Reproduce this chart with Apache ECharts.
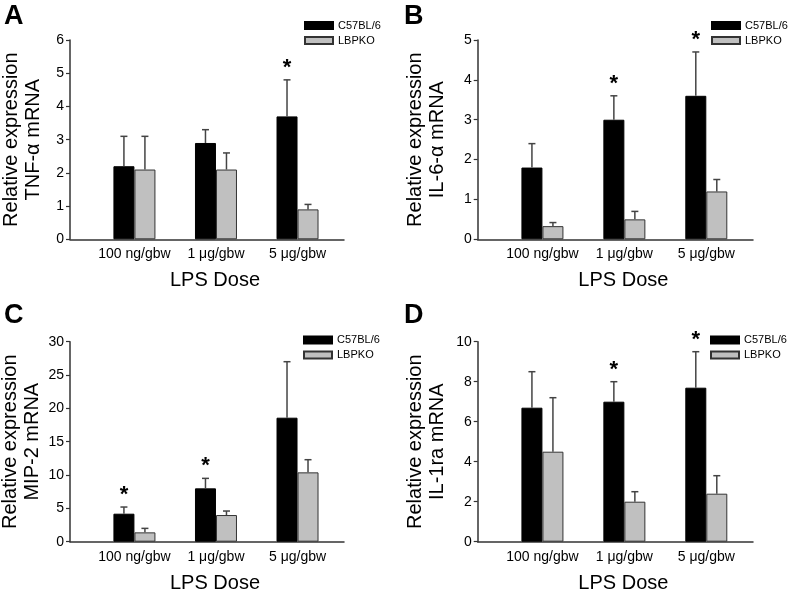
<!DOCTYPE html>
<html>
<head>
<meta charset="utf-8">
<script src="https://cdn.jsdelivr.net/npm/echarts@6/dist/echarts.min.js"></script>
<style>
html,body{margin:0;padding:0;background:#fff;}
#chart{width:796px;height:589px;}
</style>
</head>
<body>
<div id="chart"></div>
<script>
// ---------- data ----------
const categories = ['100 ng/gbw', '1 μg/gbw', '5 μg/gbw'];
const seriesNames = ['C57BL/6', 'LBPKO'];
const panelLetters = ['A', 'B', 'C', 'D'];
const yTitles = ['Relative expression\nTNF-α mRNA', 'Relative expression\nIL-6-α mRNA',
                 'Relative expression\nMIP-2 mRNA', 'Relative expression\nIL-1ra mRNA'];
const yMax = [6, 5, 30, 10];
const yInterval = [1, 1, 5, 2];

// A: TNF-alpha
const tnfC57 = [2.2, 2.9, 3.7];
const tnfC57Err = [0.9, 0.4, 1.1];
const tnfKO = [2.1, 2.1, 0.9];
const tnfKOErr = [1.0, 0.5, 0.15];
const tnfSig = [0, 0, 1];
// B: IL-6-alpha
const il6C57 = [1.8, 3.0, 3.6];
const il6C57Err = [0.6, 0.6, 1.1];
const il6KO = [0.33, 0.5, 1.2];
const il6KOErr = [0.09, 0.2, 0.3];
const il6Sig = [0, 1, 1];
// C: MIP-2
const mipC57 = [4.2, 8.0, 18.6];
const mipC57Err = [1.0, 1.5, 8.4];
const mipKO = [1.4, 4.0, 10.4];
const mipKOErr = [0.6, 0.6, 1.9];
const mipSig = [1, 1, 0];
// D: IL-1ra
const il1C57 = [6.7, 7.0, 7.7];
const il1C57Err = [1.8, 1.0, 1.8];
const il1KO = [4.5, 2.0, 2.4];
const il1KOErr = [2.7, 0.5, 0.9];
const il1Sig = [0, 1, 1];

const panels = [
  {c57: tnfC57, c57Err: tnfC57Err, ko: tnfKO, koErr: tnfKOErr, sig: tnfSig},
  {c57: il6C57, c57Err: il6C57Err, ko: il6KO, koErr: il6KOErr, sig: il6Sig},
  {c57: mipC57, c57Err: mipC57Err, ko: mipKO, koErr: mipKOErr, sig: mipSig},
  {c57: il1C57, c57Err: il1C57Err, ko: il1KO, koErr: il1KOErr, sig: il1Sig}
];

// ---------- layout / style ----------
const FONT = '"Liberation Sans", Arial, sans-serif';
const BAR_W = 21;
const grids = [
  {left: 70, top: 40, width: 274, height: 199.3},
  {left: 477.7, top: 40, width: 275.3, height: 199.3},
  {left: 70, top: 341.7, width: 274, height: 200},
  {left: 477.7, top: 341.7, width: 275.3, height: 200}
];
const nameGaps = [26, 29, 27, 29];
const xNameGaps = [31, 31, 32, 32];
const legendPos = [
  {left: 304, top: 20}, {left: 711, top: 20},
  {left: 303, top: 334.5}, {left: 710, top: 334.5}
];
const letterPos = [
  {left: 4, top: 3}, {left: 404, top: 3},
  {left: 4, top: 302}, {left: 404, top: 302}
];

function errRender(params, api) {
  const x = api.value(0), m = api.value(1), s = api.value(2), side = api.value(3), sig = api.value(4);
  const base = api.coord([x, m]);
  const top = api.coord([x, m + s]);
  const px = base[0] + side * BAR_W / 2;
  const children = [
    {type: 'line', shape: {x1: px, y1: base[1], x2: px, y2: top[1]}, style: {stroke: '#444', lineWidth: 1.5}},
    {type: 'line', shape: {x1: px - 3.5, y1: top[1], x2: px + 3.5, y2: top[1]}, style: {stroke: '#444', lineWidth: 1.5}}
  ];
  if (sig) {
    children.push({type: 'text', x: px, y: top[1] - 1,
      style: {text: '*', font: 'bold 22px ' + FONT, fill: '#000', align: 'center', verticalAlign: 'bottom'}});
  }
  return {type: 'group', children: children};
}

const option = {
  animation: false,
  backgroundColor: '#fff',
  title: [], grid: [], xAxis: [], yAxis: [], legend: [], series: []
};

panels.forEach((p, i) => {
  option.title.push({text: panelLetters[i], left: letterPos[i].left, top: letterPos[i].top, padding: 0,
    textStyle: {fontFamily: FONT, fontSize: 27, fontWeight: 'bold', color: '#000'}});
  option.grid.push(Object.assign({containLabel: false, outerBoundsMode: 'none'}, grids[i]));
  option.xAxis.push({
    type: 'value', gridIndex: i, min: -0.79, max: 2.57,
    name: 'LPS Dose', nameLocation: 'middle', nameGap: xNameGaps[i],
    nameTextStyle: {fontFamily: FONT, fontSize: 20, color: '#000', padding: [0, 0, 0, 16]},
    axisLine: {show: true, onZero: false, lineStyle: {color: '#333', width: 1.5}},
    axisTick: {show: false},
    splitLine: {show: false},
    axisLabel: {customValues: [0, 1, 2], formatter: v => categories[Math.round(v)] || '',
      fontFamily: FONT, fontSize: 14, color: '#000', margin: 8}
  });
  option.yAxis.push({
    type: 'value', gridIndex: i, min: 0, max: yMax[i], interval: yInterval[i],
    name: yTitles[i], nameLocation: 'middle', nameRotate: 90, nameGap: nameGaps[i],
    nameTextStyle: {fontFamily: FONT, fontSize: 20, lineHeight: 22, color: '#000'},
    axisLine: {show: true, onZero: false, lineStyle: {color: '#333', width: 1.5}},
    axisTick: {show: true, length: 4, lineStyle: {color: '#333', width: 1.2}},
    splitLine: {show: false},
    axisLabel: {fontFamily: FONT, fontSize: 14, color: '#000', margin: 6}
  });
  option.legend.push({
    orient: 'vertical', left: legendPos[i].left, top: legendPos[i].top, padding: 0,
    itemWidth: 28, itemHeight: 7, itemGap: 4, icon: 'rect',
    data: seriesNames,
    textStyle: {fontFamily: FONT, fontSize: 11, color: '#000'}
  });
  option.series.push({
    name: seriesNames[0], type: 'bar', xAxisIndex: i, yAxisIndex: i,
    barWidth: BAR_W, barGap: '0%',
    itemStyle: {color: '#000', borderColor: '#000', borderWidth: 1},
    data: p.c57.map((v, k) => [k, v])
  });
  option.series.push({
    name: seriesNames[1], type: 'bar', xAxisIndex: i, yAxisIndex: i,
    barWidth: BAR_W, barGap: '0%',
    itemStyle: {color: '#c0c0c0', borderColor: '#333', borderWidth: 1},
    data: p.ko.map((v, k) => [k, v])
  });
  const errData = [];
  p.c57.forEach((v, k) => errData.push([k, v, p.c57Err[k], -1, p.sig[k]]));
  p.ko.forEach((v, k) => errData.push([k, v, p.koErr[k], 1, 0]));
  option.series.push({
    type: 'custom', xAxisIndex: i, yAxisIndex: i, z: 5, clip: false,
    renderItem: errRender, data: errData, silent: true
  });
});

const chart = echarts.init(document.getElementById('chart'), null, {renderer: 'canvas'});
chart.setOption(option);
</script>
</body>
</html>
